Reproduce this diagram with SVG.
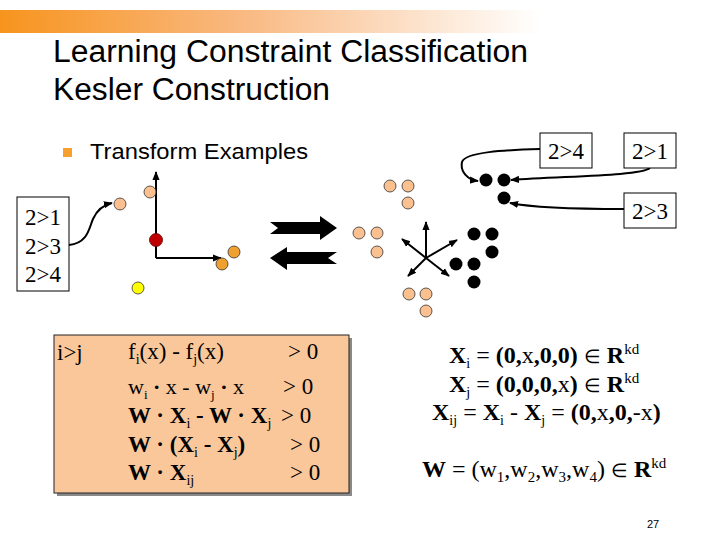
<svg xmlns="http://www.w3.org/2000/svg" width="720" height="540" viewBox="0 0 720 540">
<defs>
<linearGradient id="bar" x1="0" y1="0" x2="540" y2="0" gradientUnits="userSpaceOnUse">
<stop offset="0" stop-color="#F7941E"/>
<stop offset="0.45" stop-color="#F9B982"/>
<stop offset="1" stop-color="#FFFFFF"/>
</linearGradient>
<marker id="ah" viewBox="0 0 10 10" refX="9" refY="5" markerWidth="9" markerHeight="9" markerUnits="userSpaceOnUse" orient="auto">
<path d="M0,1 L10,5 L0,9 Z" fill="#000"/>
</marker>
</defs>
<style>
.title{font-family:"Liberation Sans",Arial,sans-serif;font-size:31px;fill:#000}
.sans{font-family:"Liberation Sans",Arial,sans-serif;fill:#000}
.serif{font-family:"Liberation Serif","Times New Roman",serif;fill:#000}
.box{fill:#fff;stroke:#000;stroke-width:1}
.peach{fill:#FAC08F;stroke:#333;stroke-width:0.8}
.blk{fill:#000}
.ln{fill:none;stroke:#000;stroke-width:2}
.b{font-weight:bold}
.dot{font-weight:bold}
.el{font-size:19px;font-weight:normal}
</style>
<rect width="720" height="540" fill="#fff"/>
<rect x="0" y="10" width="720" height="23" fill="url(#bar)"/>
<text class="title" x="53" y="62" textLength="475" lengthAdjust="spacingAndGlyphs">Learning Constraint Classification</text>
<text class="title" x="53" y="100" textLength="277" lengthAdjust="spacingAndGlyphs">Kesler Construction</text>
<rect x="63" y="148" width="9" height="9" fill="#F7A030"/>
<text class="sans" x="90" y="159" font-size="22" textLength="218" lengthAdjust="spacingAndGlyphs">Transform Examples</text>

<g id="connectors">
<path class="ln" d="M69,245 C88,243 89,228 93,219 C97,210 103,205 112,203" marker-end="url(#ah)"/>
<path class="ln" d="M156,258 V172" marker-end="url(#ah)"/>
<path class="ln" d="M156,258 H221" marker-end="url(#ah)"/>
<path d="M270,222 L320,222 L320,216 L337,228 L320,240 L320,234 L270,234 L278,228 Z" fill="#000"/>
<path d="M270,258 L287,247 L287,252 L337,252 L328,258 L337,264 L287,264 L287,270 Z" fill="#000"/>
<g stroke="#000" stroke-width="2" fill="none">
<path d="M426,258 V222" marker-end="url(#ah)"/>
<path d="M426,258 L402,239" marker-end="url(#ah)"/>
<path d="M426,258 L457,240" marker-end="url(#ah)"/>
<path d="M426,258 L408,276" marker-end="url(#ah)"/>
<path d="M426,258 L449,276" marker-end="url(#ah)"/>
</g>
<path class="ln" d="M540,149 C505,150 465,152 462,162 C460,172 468,180 478,181" marker-end="url(#ah)"/>
<path class="ln" d="M650,168 C640,176 565,176 511,180" marker-end="url(#ah)"/>
<path class="ln" d="M624,209 C565,209 530,207 510,203" marker-end="url(#ah)"/>
</g>

<g id="box-left">
<rect class="box" x="17" y="197" width="52" height="94"/>
<text class="serif" x="25" y="225" font-size="23">2&gt;1</text>
<text class="serif" x="25" y="254" font-size="23">2&gt;3</text>
<text class="serif" x="25" y="282" font-size="23">2&gt;4</text>
</g>

<g id="dots-left">
<circle class="peach" cx="120" cy="204" r="6"/>
<circle class="peach" cx="150" cy="192" r="6"/>
<circle cx="156" cy="240" r="6.5" fill="#C00000" stroke="#600" stroke-width="0.8"/>
<circle cx="234" cy="252" r="6" fill="#F0A030" stroke="#333" stroke-width="0.8"/>
<circle cx="222" cy="264" r="6" fill="#F0A030" stroke="#333" stroke-width="0.8"/>
<circle cx="138" cy="288" r="6" fill="#FFFF00" stroke="#333" stroke-width="0.8"/>
</g>

<g id="dots-peach-right">
<circle class="peach" cx="390" cy="186" r="6"/>
<circle class="peach" cx="408" cy="186" r="6"/>
<circle class="peach" cx="408" cy="203" r="6"/>
<circle class="peach" cx="359" cy="233" r="6"/>
<circle class="peach" cx="377" cy="233" r="6"/>
<circle class="peach" cx="377" cy="252" r="6"/>
<circle class="peach" cx="409" cy="294" r="6"/>
<circle class="peach" cx="426" cy="294" r="6"/>
<circle class="peach" cx="426" cy="311" r="6"/>
</g>

<g id="dots-black">
<circle class="blk" cx="486" cy="180" r="6.5"/>
<circle class="blk" cx="504" cy="180" r="6.5"/>
<circle class="blk" cx="504" cy="198" r="6.5"/>
<circle class="blk" cx="474" cy="234" r="6.5"/>
<circle class="blk" cx="492" cy="234" r="6.5"/>
<circle class="blk" cx="492" cy="252" r="6.5"/>
<circle class="blk" cx="456" cy="264" r="6.5"/>
<circle class="blk" cx="474" cy="264" r="6.5"/>
<circle class="blk" cx="474" cy="282" r="6.5"/>
</g>

<g id="box-24">
<rect class="box" x="540" y="133" width="52" height="35"/>
<text class="serif" x="548" y="159" font-size="23">2&gt;4</text>
</g>
<g id="box-21">
<rect class="box" x="624" y="133" width="52" height="35"/>
<text class="serif" x="632" y="159" font-size="23">2&gt;1</text>
</g>
<g id="box-23">
<rect class="box" x="624" y="193" width="52" height="35"/>
<text class="serif" x="632" y="219" font-size="23">2&gt;3</text>
</g>

<g id="formula-box">
<rect x="57" y="338" width="295" height="158" fill="#8a8a8a"/>
<rect x="54" y="335" width="295" height="158" fill="#FAC79B" stroke="#222" stroke-width="1"/>
<text class="serif" x="57" y="360" font-size="23">i&gt;j</text>
<text class="serif" x="128" y="359" font-size="23">f<tspan font-size="14" dy="5">i</tspan><tspan dy="-5">(x) - f</tspan><tspan font-size="14" dy="5">j</tspan><tspan dy="-5">(x)</tspan></text>
<text class="serif" x="288" y="359" font-size="23">&gt; 0</text>
<text class="serif" x="128" y="394" font-size="22">w<tspan font-size="13" dy="5">i</tspan><tspan dy="-5"> </tspan><tspan class="dot">·</tspan> x - w<tspan font-size="13" dy="5">j</tspan><tspan dy="-5"> </tspan><tspan class="dot">·</tspan> x</text>
<text class="serif" x="283" y="394" font-size="23">&gt; 0</text>
<text class="serif b" x="128" y="423" font-size="23">W · X<tspan font-size="14" font-weight="normal" dy="5">i</tspan><tspan dy="-5"> - W · X</tspan><tspan font-size="14" font-weight="normal" dy="5">j</tspan></text>
<text class="serif" x="281" y="423" font-size="23">&gt; 0</text>
<text class="serif b" x="128" y="452" font-size="23">W · (X<tspan font-size="14" font-weight="normal" dy="5">i</tspan><tspan dy="-5"> - X</tspan><tspan font-size="14" font-weight="normal" dy="5">j</tspan><tspan dy="-5">)</tspan></text>
<text class="serif" x="290" y="452" font-size="23">&gt; 0</text>
<text class="serif b" x="128" y="480" font-size="23">W · X<tspan font-size="14" font-weight="normal" dy="5">ij</tspan></text>
<text class="serif" x="290" y="480" font-size="23">&gt; 0</text>
</g>

<g id="equations" font-size="24">
<text class="serif" x="449" y="363"><tspan class="b">X</tspan><tspan font-size="14" dy="5">i</tspan><tspan dy="-5"> = </tspan><tspan class="b">(0,</tspan>x<tspan class="b">,0,0)</tspan> <tspan class="el">∈</tspan> <tspan class="b">R</tspan><tspan font-size="15" dy="-9">kd</tspan></text>
<text class="serif" x="449" y="392"><tspan class="b">X</tspan><tspan font-size="14" dy="5">j</tspan><tspan dy="-5"> = </tspan><tspan class="b">(0,0,0,</tspan>x<tspan class="b">)</tspan> <tspan class="el">∈</tspan> <tspan class="b">R</tspan><tspan font-size="15" dy="-9">kd</tspan></text>
<text class="serif" x="432" y="420"><tspan class="b">X</tspan><tspan font-size="14" dy="5">ij</tspan><tspan dy="-5"> = </tspan><tspan class="b">X</tspan><tspan font-size="14" dy="5">i</tspan><tspan dy="-5"> - </tspan><tspan class="b">X</tspan><tspan font-size="14" dy="5">j</tspan><tspan dy="-5"> = </tspan><tspan class="b">(0,</tspan>x<tspan class="b">,0,</tspan>-x<tspan class="b">)</tspan></text>
<text class="serif" x="422" y="477"><tspan class="b">W</tspan> = (w<tspan font-size="15" dy="5">1</tspan><tspan dy="-5">,w</tspan><tspan font-size="15" dy="5">2</tspan><tspan dy="-5">,w</tspan><tspan font-size="15" dy="5">3</tspan><tspan dy="-5">,w</tspan><tspan font-size="15" dy="5">4</tspan><tspan dy="-5">) </tspan><tspan class="el">∈</tspan> <tspan class="b">R</tspan><tspan font-size="15" dy="-9">kd</tspan></text>
</g>

<text class="sans" x="647" y="528" font-size="11">27</text>
</svg>
